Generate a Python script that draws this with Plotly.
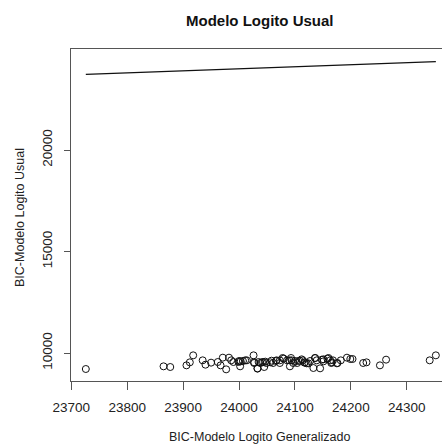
import plotly.graph_objects as go

# BIC of the generalized logit model (x) and of the usual logit model (y)
bic_generalizado = [
    23726, 23865, 23877, 23906, 23912, 23918, 23935, 23940, 23950, 23962,
    23967, 23971, 23977, 23982, 23986, 23990, 23999, 24002, 24003, 24011,
    24014, 24026, 24027, 24033, 24038, 24043, 24045, 24049, 24058, 24061,
    24067, 24073, 24080, 24086, 24091, 24094, 24097, 24104, 24109, 24114,
    24117, 24121, 24133, 24136, 24139, 24145, 24148, 24151, 24158, 24160,
    24165, 24168, 24176, 24182, 24193, 24199, 24203, 24222, 24228, 24252,
    24263, 24341, 24352,
    24027, 24035, 24041, 24033, 24047, 24056, 24066, 24073, 24078, 24090,
    24093, 24100, 24106, 24112, 24118, 24124, 24127, 24136, 24151, 24163,
    24166, 24175, 24000, 24007,
]
bic_usual = [
    9212, 9343, 9310, 9392, 9540, 9885, 9639, 9425, 9524, 9557,
    9392, 9770, 9195, 9770, 9639, 9557, 9557, 9343, 9590, 9639,
    9639, 9885, 9507, 9228, 9507, 9557, 9310, 9507, 9622, 9507,
    9639, 9507, 9721, 9639, 9343, 9639, 9507, 9507, 9622, 9639,
    9524, 9491, 9261, 9754, 9639, 9245, 9672, 9590, 9721, 9754,
    9507, 9639, 9507, 9639, 9770, 9704, 9704, 9507, 9540, 9392,
    9672, 9639, 9885,
    9541, 9557, 9541, 9245, 9573, 9541, 9606, 9639, 9754, 9639,
    9754, 9606, 9606, 9688, 9541, 9491, 9606, 9754, 9688, 9639,
    9541, 9491, 9606, 9606,
]

x_ticks = [23700, 23800, 23900, 24000, 24100, 24200, 24300]
y_ticks = [10000, 15000, 20000]

# reference line y = x over the observed range
ref_x = sorted(bic_generalizado)
ref_y = ref_x

ink = "#222222"
axis_col = "#555555"
font_family = "Liberation Sans, Arial, sans-serif"

fig = go.Figure()
fig.add_trace(go.Scatter(
    x=ref_x, y=ref_y, mode="lines",
    line=dict(color="#111111", width=1.2),
    hoverinfo="skip", showlegend=False,
))
fig.add_trace(go.Scatter(
    x=bic_generalizado, y=bic_usual, mode="markers",
    marker=dict(symbol="circle-open", size=7, color="#111111",
                line=dict(width=1, color="#111111")),
    showlegend=False,
))

fig.update_layout(
    width=442, height=447,
    margin=dict(l=71, r=0, t=49, b=66),
    paper_bgcolor="white", plot_bgcolor="white",
    font=dict(family=font_family, size=13, color=ink),
    xaxis=dict(
        range=[23699.5, 24363], tickvals=x_ticks,
        ticktext=[str(v) for v in x_ticks],
        showgrid=False, zeroline=False,
        showline=True, mirror=True, linecolor=axis_col, linewidth=1,
        ticks="outside", ticklen=8, tickcolor=axis_col, tickwidth=1,
        ticklabelstandoff=6,
        tickfont=dict(size=13.5, color=ink),
    ),
    yaxis=dict(
        range=[8621, 24975], tickvals=y_ticks,
        ticktext=[str(v) for v in y_ticks],
        showgrid=False, zeroline=False,
        showline=True, linecolor=axis_col, linewidth=1,
        ticks="outside", ticklen=6, tickcolor=axis_col, tickwidth=1,
        tickangle=-90, ticklabelstandoff=7,
        tickfont=dict(size=13.5, color=ink),
    ),
    annotations=[
        dict(text="<b>Modelo Logito Usual</b>", xref="paper", yref="paper",
             x=0.5094, y=1.0873, xanchor="center", yanchor="middle",
             showarrow=False, font=dict(size=15, color="#111111")),
        dict(text="BIC-Modelo Logito Generalizado", xref="paper", yref="paper",
             x=0.5094, y=-0.1687, xanchor="center", yanchor="middle",
             showarrow=False, font=dict(size=12.5, color=ink)),
        dict(text="BIC-Modelo Logito Usual", xref="paper", yref="paper",
             x=-0.1375, y=0.494, xanchor="center", yanchor="middle",
             textangle=-90, showarrow=False, font=dict(size=12.5, color=ink)),
    ],
)

fig.write_html("out.html")
